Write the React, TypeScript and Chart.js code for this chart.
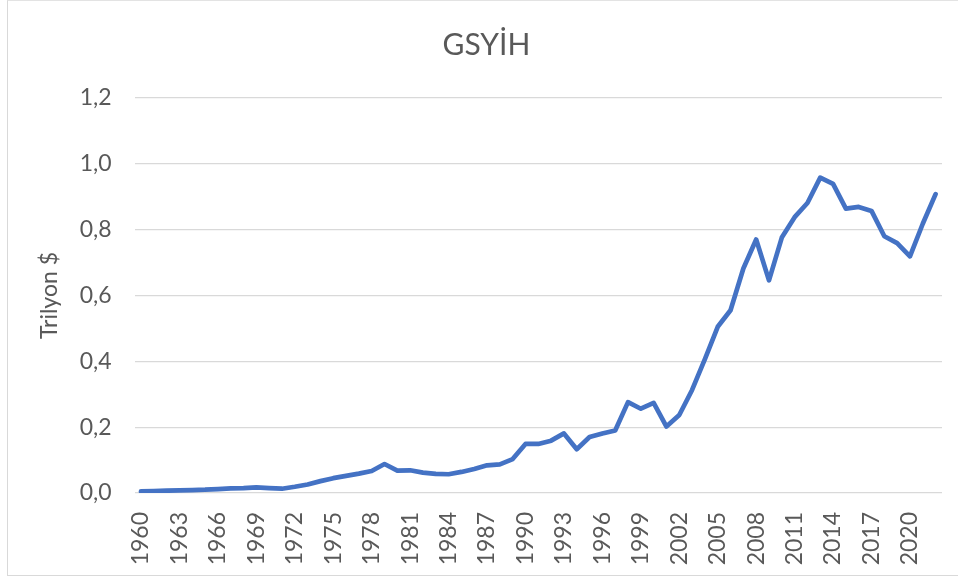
import React, { useEffect, useRef } from "react";
import { Chart, registerables } from "chart.js";

Chart.register(...registerables);

const years = [
  "1960","1961","1962","1963","1964","1965","1966","1967","1968","1969",
  "1970","1971","1972","1973","1974","1975","1976","1977","1978","1979",
  "1980","1981","1982","1983","1984","1985","1986","1987","1988","1989",
  "1990","1991","1992","1993","1994","1995","1996","1997","1998","1999",
  "2000","2001","2002","2003","2004","2005","2006","2007","2008","2009",
  "2010","2011","2012","2013","2014","2015","2016","2017","2018","2019",
  "2020","2021","2022",
];

const gdp = [
  0.005, 0.006, 0.007, 0.008, 0.009, 0.010, 0.012, 0.014, 0.015, 0.017,
  0.015, 0.013, 0.019, 0.026, 0.036, 0.045, 0.052, 0.059, 0.067, 0.088,
  0.068, 0.069, 0.062, 0.058, 0.057, 0.064, 0.073, 0.084, 0.087, 0.103,
  0.149, 0.149, 0.159, 0.181, 0.133, 0.170, 0.181, 0.190, 0.276, 0.256,
  0.274, 0.202, 0.237, 0.313, 0.407, 0.505, 0.555, 0.682, 0.770, 0.646,
  0.776, 0.838, 0.881, 0.958, 0.939, 0.864, 0.869, 0.857, 0.780, 0.759,
  0.719, 0.818, 0.908,
];

const titleText = "GSYİH";
const yAxisTitle = "Trilyon $";

const FONT = "Lato, 'Open Sans', sans-serif";
const TEXT = "#595959";
const GRID = "#d9d9d9";

export default function App() {
  const ref = useRef<HTMLCanvasElement | null>(null);

  useEffect(() => {
    if (!ref.current) return;
    const chart = new Chart(ref.current, {
      type: "line",
      data: {
        labels: years,
        datasets: [
          {
            data: gdp,
            borderColor: "#4472C4",
            backgroundColor: "#4472C4",
            borderWidth: 4.7,
            pointRadius: 0,
            tension: 0,
            borderJoinStyle: "round",
            borderCapStyle: "round",
          },
        ],
      },
      options: {
        animation: false,
        responsive: false,
        layout: { padding: { left: 15, right: 0, top: 0, bottom: 0 } },
        plugins: {
          legend: { display: false },
          tooltip: { enabled: false },
          title: {
            display: true,
            text: titleText,
            color: TEXT,
            font: { family: FONT, size: 30, weight: "normal" },
            padding: { top: 27, bottom: 35 },
          },
        },
        scales: {
          x: {
            type: "category",
            offset: true,
            grid: { display: false, drawTicks: false },
            border: { display: false },
            afterFit: (s: any) => {
              s.height = 86;
              s.paddingRight = 16;
              s.paddingLeft = 0;
            },
            ticks: {
              autoSkip: false,
              maxRotation: 90,
              minRotation: 90,
              padding: 19,
              color: TEXT,
              font: { family: FONT, size: 23 },
              callback: function (_v: any, i: number) {
                return i % 3 === 0 ? years[i] : "";
              },
            },
          },
          y: {
            min: 0,
            max: 1.2,
            grid: { color: GRID, lineWidth: 1.3, drawTicks: false },
            border: { display: false },
            afterFit: (s: any) => {
              s.width = 119.6;
            },
            ticks: {
              stepSize: 0.2,
              padding: 23,
              color: TEXT,
              font: { family: FONT, size: 23 },
              callback: (v: any) => Number(v).toFixed(1).replace(".", ","),
            },
            title: {
              display: true,
              text: yAxisTitle,
              color: TEXT,
              font: { family: FONT, size: 23 },
              padding: { top: 21, bottom: 0 },
            },
          },
        },
      },
    });
    return () => chart.destroy();
  }, []);

  return (
    <div style={{ position: "absolute", left: 0, top: 0, width: 958, height: 579, background: "#fff" }}>
      <div
        style={{
          position: "absolute",
          left: 7,
          top: 0,
          width: 960,
          height: 574,
          borderTop: "1px solid #e3e3e3",
          borderLeft: "1px solid #d9d9d9",
          borderBottom: "1px solid #d9d9d9",
        }}
      />
      <canvas ref={ref} width={958} height={579} style={{ position: "absolute", left: 0, top: 0 }} />
    </div>
  );
}
